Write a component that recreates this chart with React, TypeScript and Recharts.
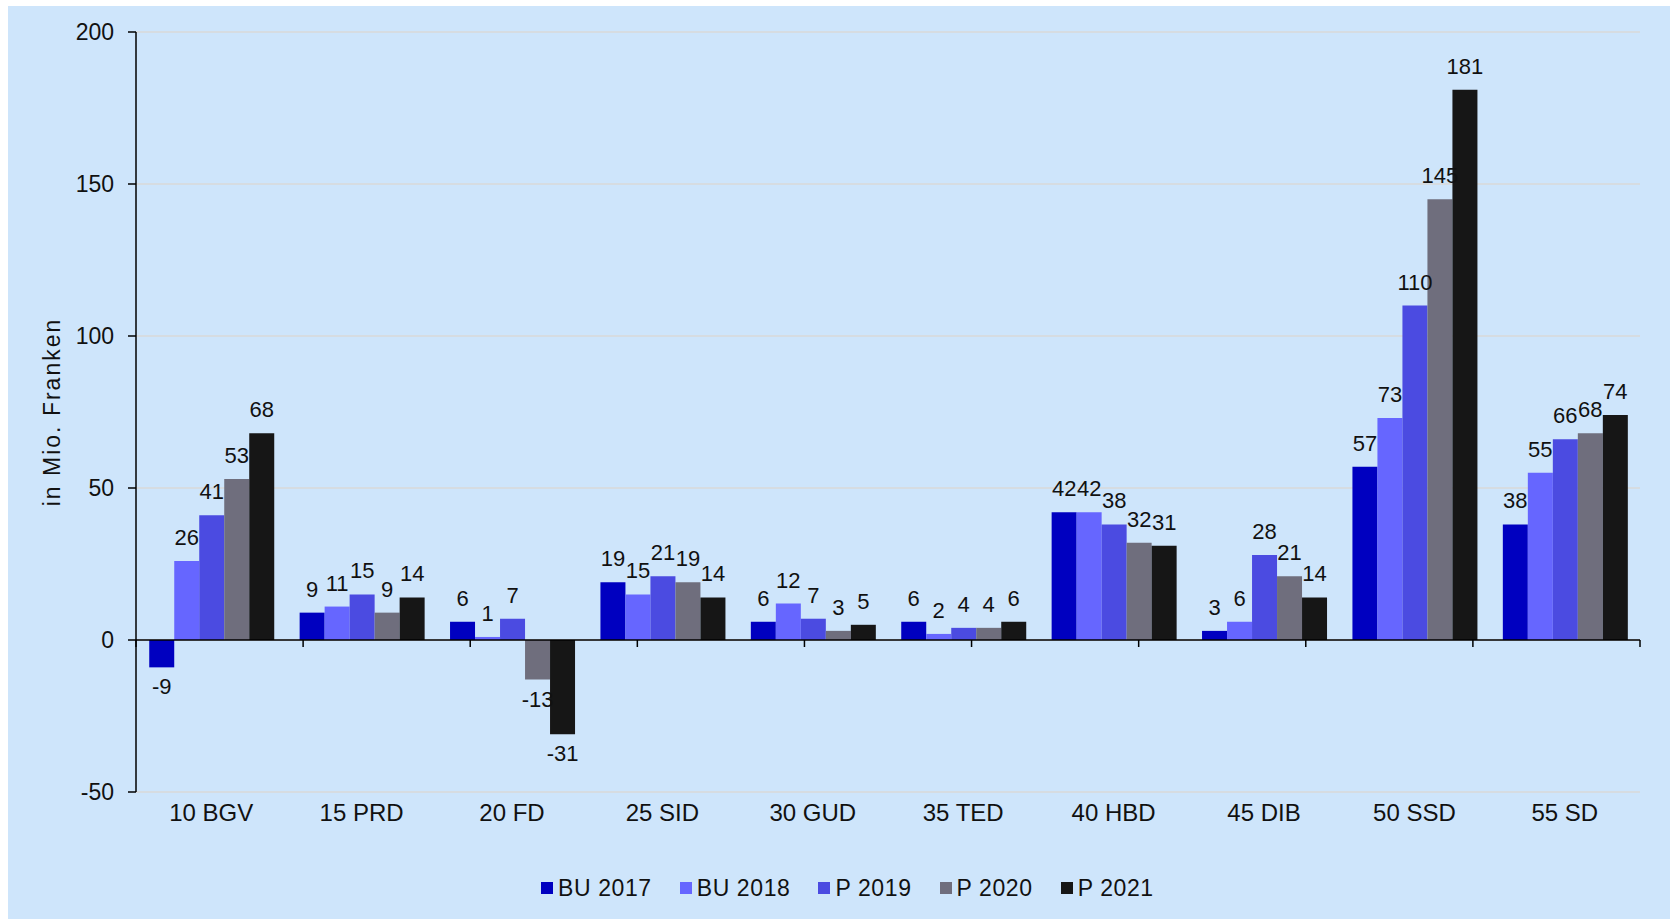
import React from 'react';
import {
  BarChart,
  Bar,
  XAxis,
  YAxis,
  CartesianGrid,
  ReferenceLine,
  LabelList,
  Legend,
} from 'recharts';

const categories = ['10 BGV', '15 PRD', '20 FD', '25 SID', '30 GUD', '35 TED', '40 HBD', '45 DIB', '50 SSD', '55 SD'];
const bu2017 = [-9, 9, 6, 19, 6, 6, 42, 3, 57, 38];
const bu2018 = [26, 11, 1, 15, 12, 2, 42, 6, 73, 55];
const p2019 = [41, 15, 7, 21, 7, 4, 38, 28, 110, 66];
const p2020 = [53, 9, -13, 19, 3, 4, 32, 21, 145, 68];
const p2021 = [68, 14, -31, 14, 5, 6, 31, 14, 181, 74];
const yTicks = [-50, 0, 50, 100, 150, 200];

const seriesNames = ['BU 2017', 'BU 2018', 'P 2019', 'P 2020', 'P 2021'];
const seriesKeys = ['bu2017', 'bu2018', 'p2019', 'p2020', 'p2021'];
const seriesColors = ['#0000C0', '#6666FF', '#4B4BE1', '#6F6E7D', '#161616'];

const data = categories.map((name, i) => ({
  name,
  bu2017: bu2017[i],
  bu2018: bu2018[i],
  p2019: p2019[i],
  p2020: p2020[i],
  p2021: p2021[i],
}));

const boundaries = categories.map((_, i) => i + 1).concat([0]);

const FONT = "'Liberation Sans', Arial, sans-serif";

const renderLabel = (props: any) => {
  const { x, y, width, height, value } = props;
  const top = Math.min(y, y + height);
  const bottom = Math.max(y, y + height);
  const cx = x + width / 2;
  const neg = value < 0;
  return (
    <text
      x={cx}
      y={neg ? bottom + 27 : top - 16}
      textAnchor="middle"
      fontSize={22}
      fontFamily={FONT}
      fill="#111"
    >
      {value}
    </text>
  );
};

const renderLegend = (props: any) => {
  const { payload } = props;
  return (
    <div style={{ display: 'flex', alignItems: 'center', fontFamily: FONT, fontSize: 23, letterSpacing: 0.6, color: '#111', lineHeight: '26px', whiteSpace: 'nowrap' }}>
      {(payload || []).map((entry: any, i: number) => (
        <div key={i} style={{ display: 'flex', alignItems: 'center', marginRight: 28 }}>
          <span style={{ display: 'inline-block', width: 12, height: 12, background: entry.color, marginRight: 5 }} />
          <span>{entry.value}</span>
        </div>
      ))}
    </div>
  );
};

export default function App() {
  return (
    <div
      style={{
        position: 'absolute',
        left: 8,
        top: 6,
        width: 1662,
        height: 913,
        background: '#CEE5FB',
      }}
    >
      <BarChart
        width={1662}
        height={913}
        data={data}
        margin={{ top: 26, right: 30, bottom: 0, left: 0 }}
        barCategoryGap="8.8%"
        barGap={0}
      >
        <CartesianGrid horizontal vertical={false} stroke="#D9D9D9" strokeWidth={1.5} />
        <XAxis
          dataKey="name"
          height={127}
          axisLine={false}
          tickLine={false}
          tickSize={0}
          tickMargin={12}
          interval={0}
          tick={{ fontSize: 24, fontFamily: FONT, fill: '#111' }}
        />
        <XAxis xAxisId="b" type="number" domain={[0, 10]} hide />
        <YAxis
          width={128}
          domain={[-50, 200]}
          ticks={yTicks}
          interval={0}
          axisLine={{ stroke: '#000', strokeWidth: 1.5 }}
          tickLine={{ stroke: '#000', strokeWidth: 1.5 }}
          tickSize={8}
          tickMargin={14}
          tick={{ fontSize: 23, fontFamily: FONT, fill: '#111' }}
          label={{
            value: 'in Mio. Franken',
            angle: -90,
            position: 'insideLeft',
            dx: 39,
            style: { fontSize: 23, fontFamily: FONT, fill: '#111', letterSpacing: 2, textAnchor: 'middle' },
          }}
        />
        <ReferenceLine y={0} stroke="#000" strokeWidth={1.5} ifOverflow="extendDomain" />
        {boundaries.map((b) => (
          <ReferenceLine
            key={b}
            xAxisId="b"
            segment={[{ x: b, y: 0 }, { x: b, y: -2.3 }]}
            stroke="#000"
            strokeWidth={1.5}
          />
        ))}
        {seriesKeys.map((k, i) => (
          <Bar key={k} dataKey={k} name={seriesNames[i]} fill={seriesColors[i]} isAnimationActive={false}>
            <LabelList dataKey={k} content={renderLabel} />
          </Bar>
        ))}
        <Legend
          layout="horizontal"
          verticalAlign="middle"
          align="center"
          content={renderLegend}
          wrapperStyle={{ top: 869, left: 533, width: 800 }}
        />
      </BarChart>
    </div>
  );
}
